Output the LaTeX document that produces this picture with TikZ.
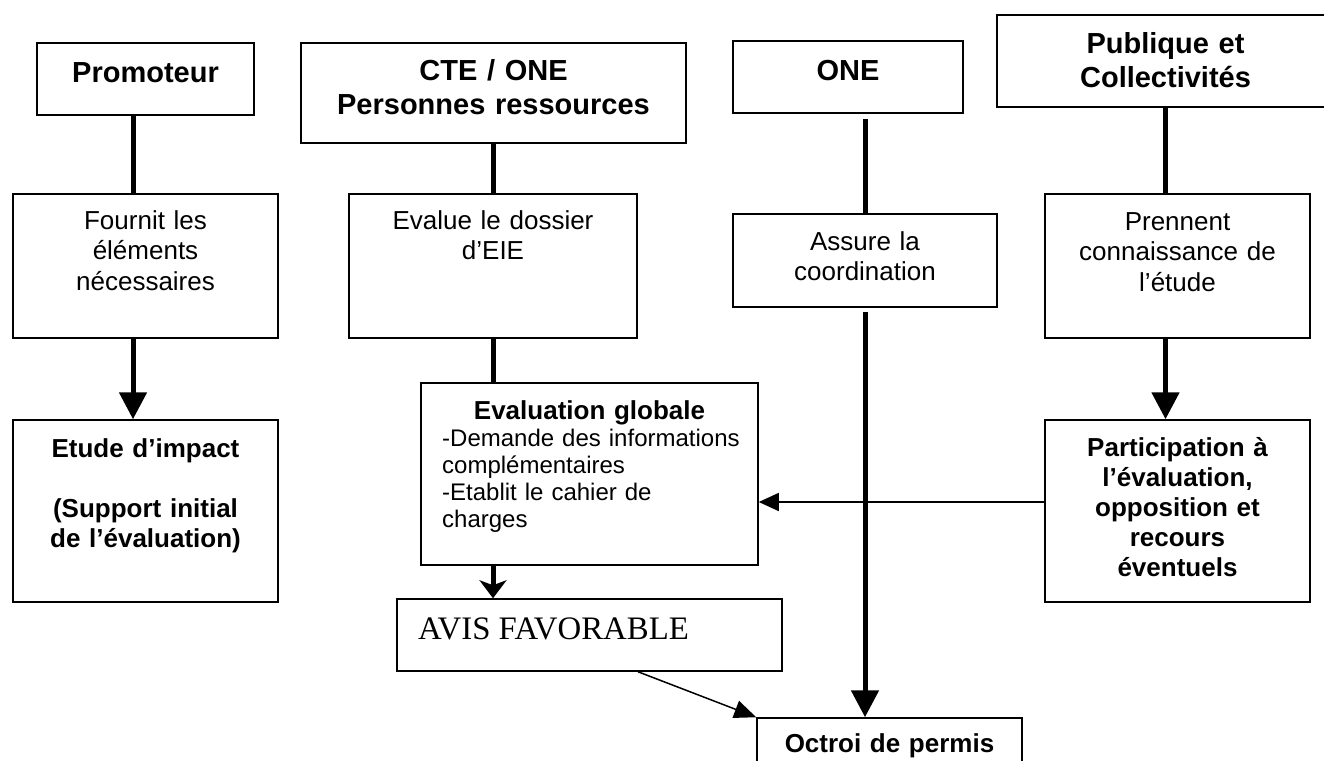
\documentclass[tikz,border=0pt]{standalone}
\usepackage{fontspec}
\setmainfont{Liberation Sans}
\newfontfamily\avisfont{Liberation Serif}
\usetikzlibrary{arrows.meta}

\tikzset{
  box/.style 2 args={draw, line width=1.5pt, inner sep=0pt, minimum width=#1pt, minimum height=#2pt},
  head/.style={anchor=base, inner sep=0pt, text width=#1pt, align=center, font=\bfseries\fontsize{29}{34.5}\selectfont},
  body/.style={anchor=base, inner sep=0pt, text width=#1pt, align=center, font=\fontsize{26}{30.5}\selectfont},
  bodyb/.style={body=#1, font=\bfseries\fontsize{26}{30.2}\selectfont},
  link/.style={line width=5pt},
  flow/.style={link, -{Triangle[length=27pt,width=27pt]}},
  thinflow/.style={line width=1.5pt, -{Triangle[length=20pt,width=18pt]}}
}

\begin{document}
\begin{tikzpicture}[x=1pt, y=-1pt]
    \useasboundingbox (0,0) rectangle (1324,760);

    % boxes
    \node[box={217}{72}]  (promoteur) at (145.5,79) {};
    \node[box={385}{100}] (cte)       at (493.5,93) {};
    \node[box={230}{72}]  (one)       at (848,77) {};
    \node[box={337}{92}]  (publique)  at (1165.5,61) {};
    \node[box={265}{144}] (fournit)   at (145.5,266) {};
    \node[box={288}{144}] (evalue)    at (493,266) {};
    \node[box={264}{93}]  (assure)    at (865,260.5) {};
    \node[box={265}{144}] (prennent)  at (1177.5,266) {};
    \node[box={265}{182}] (etude)     at (145.5,511) {};
    \node[box={337}{182}] (globale)   at (589.5,474) {};
    \node[box={265}{182}] (particip)  at (1177.5,511) {};
    \node[box={385}{72}]  (avis)      at (589.5,635) {};
    \node[box={265}{72}]  (octroi)    at (889.5,754) {};

    % texts
    \node[head=200] (promoteur-t) at (145.5,82) {Promoteur};
    \node[head=370] (cte-t) at (493.5,80) {CTE / ONE\\Personnes ressources};
    \node[head=220] (one-t) at (848,80) {ONE};
    \node[head=320] (publique-t) at (1165.5,53) {Publique et\\Collectivités};
    \node[body=250] (fournit-t) at (145.5,229) {Fournit les\\éléments\\nécessaires};
    \node[body=270] (evalue-t) at (493,229) {Evalue le dossier\\d’EIE};
    \node[body=250] (assure-t) at (865,250) {Assure la\\coordination};
    \node[body=250] (prennent-t) at (1177.5,230) {Prennent\\connaissance de\\l’étude};
    \node[bodyb=250] (etude-t) at (145.5,457) {Etude d’impact\\[30pt](Support initial\\de l’évaluation)};
    \node[bodyb=250] (particip-t) at (1177.5,456) {Participation à\\l’évaluation,\\opposition et\\recours\\éventuels};
    \node[bodyb=320] (globale-t) at (589.5,419) {Evaluation globale};
    \node[body=310, align=left, anchor=base west, font=\fontsize{24}{27}\selectfont] (globale-b) at (442,446)
        {-Demande des informations\\complémentaires\\-Etablit le cahier de\\charges};
    \node[anchor=base west, inner sep=0pt, font=\avisfont\fontsize{32.8}{36}\selectfont] (avis-t) at (418,639) {AVIS FAVORABLE};
    \node[bodyb=250] (octroi-t) at (889.5,752) {Octroi de permis};

    % connectors
    \draw[link] ([xshift=-12.5pt]promoteur.south) -- ([xshift=-12.5pt]fournit.north);
    \draw[flow] ([xshift=-12.5pt]fournit.south) -- ([xshift=-12.5pt]etude.north);
    \draw[link] (cte.south) -- (cte.south |- evalue.north);
    \draw[link] (evalue.south) -- (evalue.south |- globale.north);
    \draw[link, -{Stealth[length=18pt,width=27pt,inset=5pt]}] (evalue.south |- globale.south) -- (evalue.south |- avis.north);
    \draw[link, shorten <=5pt] (assure.north |- one.south) -- (assure.north);
    \draw[flow, shorten <=4pt] (assure.south) -- (assure.south |- octroi.north);
    \draw[link] (publique.south) -- (publique.south |- prennent.north);
    \draw[flow] (publique.south |- prennent.south) -- (publique.south |- particip.north);
    \coordinate (retour) at ([yshift=9pt]particip.west);
    \draw[thinflow] (retour) -- (retour -| globale.east);
    \draw[thinflow, -{Triangle[length=22pt,width=18pt]}] ([xshift=48.5pt]avis.south) -- (octroi.north west);
\end{tikzpicture}
\end{document}
